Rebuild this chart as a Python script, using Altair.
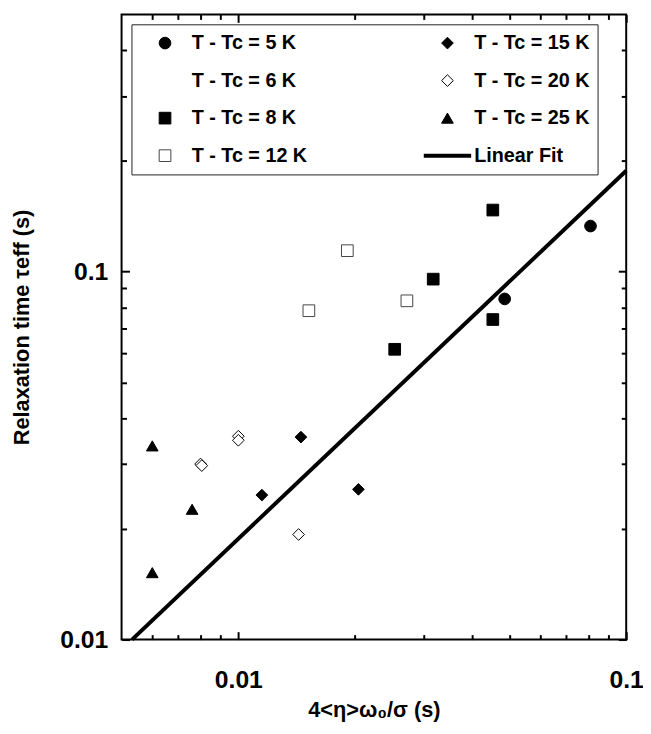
import altair as alt
import pandas as pd

# ---------------- data ----------------
series_order = ["T - Tc = 5 K", "T - Tc = 6 K", "T - Tc = 8 K", "T - Tc = 12 K",
                "T - Tc = 15 K", "T - Tc = 20 K", "T - Tc = 25 K", "Linear Fit"]
shapes = ["circle", "circle", "square", "square", "diamond", "diamond", "triangle-up", "stroke"]
fills = ["black", "transparent", "black", "white", "black", "white", "black", "black"]
strokes = ["black", "transparent", "black", "#444444", "black", "black", "black", "black"]

x_5K = [0.0809, 0.0486]
y_5K = [0.133, 0.0843]
x_8K = [0.0453, 0.0318, 0.0453, 0.0253]
y_8K = [0.147, 0.0954, 0.0741, 0.0615]
x_12K = [0.0191, 0.0152, 0.0272]
y_12K = [0.114, 0.0783, 0.0833]
x_15K = [0.0145, 0.0115, 0.0204]
y_15K = [0.0355, 0.0247, 0.0256]
x_20K = [0.0100, 0.0100, 0.00799, 0.00805, 0.0143]
y_20K = [0.0357, 0.0348, 0.0300, 0.0297, 0.0193]
x_25K = [0.0060, 0.0076, 0.0060]
y_25K = [0.0336, 0.0226, 0.0152]

fit_x = [0.00532, 0.1]
fit_y = [0.01, 0.188]

x_major = [0.01, 0.1]
x_minor = [0.006, 0.007, 0.008, 0.009, 0.02, 0.03, 0.04, 0.05, 0.06, 0.07, 0.08, 0.09]
y_major = [0.01, 0.1]
y_minor = [0.02, 0.03, 0.04, 0.05, 0.06, 0.07, 0.08, 0.09, 0.2, 0.3, 0.4]

x_title = "4<η>ω₀/σ (s)"
y_title = "Relaxation time τeff (s)"

# ---------------- tables ----------------
rows = []
for label, xs, ys in [("T - Tc = 5 K", x_5K, y_5K), ("T - Tc = 8 K", x_8K, y_8K),
                      ("T - Tc = 12 K", x_12K, y_12K), ("T - Tc = 15 K", x_15K, y_15K),
                      ("T - Tc = 20 K", x_20K, y_20K), ("T - Tc = 25 K", x_25K, y_25K)]:
    for xv, yv in zip(xs, ys):
        rows.append({"x": xv, "y": yv, "series": label})
df_pts = pd.DataFrame(rows)
df_fit = pd.DataFrame({"x": fit_x, "y": fit_y})

FONT = "Liberation Sans"
x_scale = alt.Scale(type="log", domain=[0.005, 0.1], nice=False)
y_scale = alt.Scale(type="log", domain=[0.01, 0.5], nice=False)


def make_axis(orient, values, size, labels=False, title=None, **kw):
    base = dict(orient=orient, values=values, tickSize={"expr": str(-size)},
                tickWidth=2, tickColor="black", domain=False, grid=False,
                labels=labels, title=title)
    if labels:
        base.update(labelFont=FONT, labelFontSize=25, labelFontWeight="bold",
                    labelColor="black", format="~g", labelFlush=False, labelOverlap=False)
    if title:
        base.update(titleFont=FONT, titleFontSize=22, titleFontWeight="bold",
                    titleColor="black")
    base.update(kw)
    return alt.Axis(**base)


leg = alt.Legend(title=None, orient="none", legendX=10, legendY=10, columns=2,
                 columnPadding=116, rowPadding=16, clipHeight=22, padding=8,
                 labelFont=FONT, labelFontSize=20, labelFontWeight="bold",
                 labelColor="black", labelLimit=400,
                 labelOffset=17, symbolOffset=16,
                 symbolSize={"expr": "datum.value == 'Linear Fit' ? 2304 : 140"},
                 symbolStrokeWidth={"expr": "datum.value == 'Linear Fit' ? 4 : 1"},
                 strokeColor="#222222", fillColor="white", symbolLimit=20)

fit_line = alt.Chart(df_fit).mark_line(color="black", strokeWidth=4).encode(
    x=alt.X("x:Q", scale=x_scale, axis=make_axis("bottom", x_minor, 5)),
    y=alt.Y("y:Q", scale=y_scale, axis=make_axis("left", y_minor, 5)),
)

points = alt.Chart(df_pts).mark_point(opacity=1, filled=False, size=140, strokeWidth=1).encode(
    x=alt.X("x:Q", scale=x_scale,
            axis=make_axis("bottom", x_major, 8, labels=True, title=x_title,
                           labelPadding=37, titleY=78, titleBaseline="alphabetic")),
    y=alt.Y("y:Q", scale=y_scale,
            axis=make_axis("left", y_major, 8, labels=True, title=y_title,
                           labelPadding=22, titleX=-94, titleBaseline="alphabetic")),
    shape=alt.Shape("series:N", scale=alt.Scale(domain=series_order, range=shapes), legend=leg),
    fill=alt.Fill("series:N", scale=alt.Scale(domain=series_order, range=fills), legend=leg),
    stroke=alt.Stroke("series:N", scale=alt.Scale(domain=series_order, range=strokes), legend=leg),
)

top_major = alt.Chart(df_fit).mark_line(strokeOpacity=0).encode(
    x=alt.X("x:Q", scale=x_scale, axis=make_axis("top", x_major, 8)),
    y=alt.Y("y:Q", scale=y_scale, axis=make_axis("right", y_major, 8)),
)
top_minor = alt.Chart(df_fit).mark_line(strokeOpacity=0).encode(
    x=alt.X("x:Q", scale=x_scale, axis=make_axis("top", x_minor, 5)),
    y=alt.Y("y:Q", scale=y_scale, axis=make_axis("right", y_minor, 5)),
)

chart = alt.layer(fit_line, points, top_major, top_minor).resolve_axis(
    x="independent", y="independent"
).properties(
    width=511, height=633,
    autosize=alt.AutoSizeParams(type="none"),
    padding={"left": 115, "top": 2, "right": 17, "bottom": 83},
).configure_view(stroke="black", strokeWidth=2)

chart.save("out.html", embed_options={"renderer": "svg", "actions": False})
